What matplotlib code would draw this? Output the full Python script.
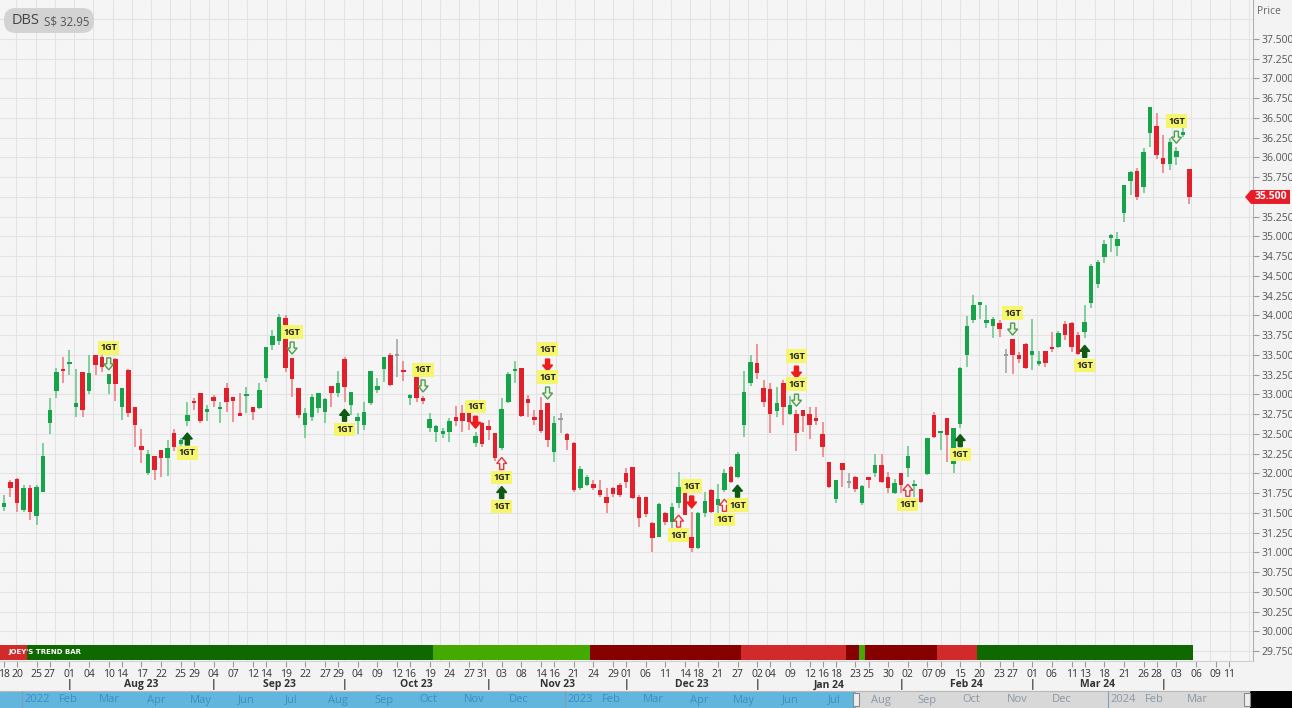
import matplotlib
matplotlib.use('Agg')
import matplotlib.pyplot as plt
from matplotlib.patches import FancyBboxPatch, Polygon, Rectangle
import numpy as np
import pandas as pd

plt.rcParams['font.family'] = ['Open Sans', 'DejaVu Sans']

# SGX trading days shown on the chart
holidays = ['2023-08-09', '2023-09-01', '2023-11-13', '2023-12-25',
            '2024-01-01', '2024-02-12', '2024-03-29']
days = pd.bdate_range('2023-07-18', '2024-04-05')
days = days[~days.isin(pd.to_datetime(holidays))]

# daily OHLC
opens = [31.58, 31.89, 31.93, 31.54, 31.81, 31.46, 31.77, 32.64, 33.04, 33.32,
         33.38, 32.84, 33.28, 33.04, 33.50, 33.47, 33.13, 33.45, 32.84, 33.31,
         32.84, 32.35, 32.00, 32.22, 32.30, 32.20, 32.51, 32.37, 32.66, 32.92,
         33.02, 32.78, 32.97, 32.81, 33.08, 32.97, 32.76, 32.98, 32.84, 32.83,
         33.21, 33.63, 33.68, 33.97, 33.46, 33.08, 32.61, 32.72, 32.83, 32.78,
         33.11, 33.02, 33.45, 32.87, 32.66, 32.61, 32.89, 33.06, 33.32, 33.50,
         33.50, 33.31, 32.95, 33.22, 32.96, 32.57, 32.52, 32.50, 32.52, 32.71,
         32.76, 32.77, 32.38, 32.64, 32.60, 32.51, 32.32, 32.90, 33.30, 33.33,
         32.94, 32.71, 32.80, 32.89, 32.27, 32.69, 32.50, 32.38, 31.81, 31.85,
         31.87, 31.79, 31.70, 31.81, 31.85, 32.00, 32.08, 31.70, 31.70, 31.37,
         31.19, 31.50, 31.38, 31.62, 31.79, 31.19, 31.05, 31.50, 31.79, 31.60,
         31.79, 32.08, 31.95, 32.61, 33.15, 33.40, 33.08, 33.07, 32.79, 33.14,
         32.75, 32.75, 32.80, 32.75, 32.70, 32.50, 32.14, 31.68, 32.13, 31.89,
         31.95, 31.63, 31.96, 32.00, 32.10, 31.95, 31.75, 32.00, 32.07, 31.84,
         31.80, 31.99, 32.74, 32.51, 32.70, 32.12, 32.62, 33.50, 33.94, 34.13,
         33.90, 33.87, 33.90, 33.50, 33.70, 33.50, 33.64, 33.50, 33.39, 33.55,
         33.60, 33.60, 33.89, 33.90, 33.75, 33.79, 34.16, 34.40, 34.74, 34.98,
         34.88, 35.30, 35.70, 35.83, 35.63, 36.31, 36.40, 35.99, 35.92, 36.00,
         36.28, 35.85]
highs = [31.72, 31.92, 31.94, 31.85, 31.85, 31.85, 32.38, 32.95, 33.33, 33.47,
         33.56, 33.32, 33.28, 33.50, 33.50, 33.50, 33.26, 33.46, 33.08, 33.32,
         32.84, 32.56, 32.30, 32.22, 32.30, 32.42, 32.56, 32.45, 32.90, 32.95,
         33.02, 32.86, 32.99, 32.90, 33.14, 32.97, 33.02, 33.09, 32.84, 33.14,
         33.60, 33.81, 34.02, 34.00, 33.46, 33.08, 32.83, 33.00, 33.02, 32.96,
         33.11, 33.30, 33.47, 33.03, 32.76, 32.90, 33.30, 33.21, 33.47, 33.52,
         33.70, 33.42, 33.00, 33.22, 32.98, 32.76, 32.61, 32.57, 32.70, 32.85,
         32.86, 32.80, 32.52, 32.65, 32.67, 32.51, 32.95, 33.28, 33.42, 33.33,
         32.99, 32.80, 32.97, 32.89, 32.73, 32.76, 32.51, 32.40, 32.09, 31.98,
         31.92, 31.92, 31.81, 31.83, 31.88, 32.07, 32.08, 31.73, 31.70, 31.39,
         31.62, 31.51, 31.62, 32.02, 31.80, 31.51, 31.51, 31.76, 31.80, 31.87,
         32.05, 32.09, 32.27, 33.30, 33.50, 33.64, 33.18, 33.14, 33.09, 33.18,
         32.98, 32.80, 32.80, 32.84, 32.84, 32.65, 32.14, 31.92, 32.13, 32.00,
         31.97, 31.85, 31.96, 32.25, 32.25, 32.02, 31.93, 32.00, 32.35, 31.92,
         31.80, 32.45, 32.78, 32.52, 32.70, 32.58, 33.35, 33.99, 34.26, 34.17,
         34.13, 33.98, 33.94, 33.58, 33.70, 33.54, 33.65, 33.95, 33.55, 33.55,
         33.79, 33.80, 33.93, 33.92, 33.79, 34.13, 34.65, 34.70, 34.95, 35.03,
         35.05, 35.65, 35.83, 35.87, 36.12, 36.64, 36.56, 36.28, 36.25, 36.13,
         36.39, 35.85]
lows = [31.52, 31.70, 31.51, 31.51, 31.41, 31.35, 31.76, 32.50, 32.95, 33.14,
        33.24, 32.71, 32.71, 33.00, 33.25, 33.28, 33.00, 32.92, 32.68, 32.71,
        32.33, 32.13, 31.98, 31.92, 31.95, 31.97, 32.28, 32.20, 32.60, 32.80,
        32.64, 32.66, 32.84, 32.64, 32.78, 32.65, 32.73, 32.76, 32.68, 32.81,
        33.16, 33.56, 33.62, 33.28, 32.97, 32.70, 32.45, 32.66, 32.76, 32.64,
        32.84, 32.97, 32.90, 32.74, 32.50, 32.55, 32.86, 33.02, 33.16, 33.10,
        33.22, 33.17, 32.87, 32.90, 32.88, 32.53, 32.40, 32.45, 32.40, 32.60,
        32.52, 32.55, 32.33, 32.33, 32.42, 32.16, 32.29, 32.89, 33.14, 32.71,
        32.71, 32.61, 32.51, 32.33, 32.14, 32.51, 32.30, 31.76, 31.79, 31.84,
        31.79, 31.70, 31.50, 31.70, 31.70, 31.81, 31.68, 31.32, 31.45, 31.00,
        31.19, 31.35, 31.30, 31.56, 31.47, 31.00, 31.04, 31.45, 31.50, 31.50,
        31.76, 31.88, 31.94, 32.46, 33.10, 33.20, 32.84, 32.51, 32.71, 32.61,
        32.74, 32.28, 32.52, 32.43, 32.61, 32.21, 31.81, 31.62, 31.83, 31.81,
        31.76, 31.60, 31.81, 31.95, 31.88, 31.75, 31.74, 31.75, 31.95, 31.70,
        31.62, 31.98, 32.45, 32.29, 32.14, 32.00, 32.58, 33.35, 33.90, 33.95,
        33.84, 33.71, 33.73, 33.27, 33.26, 33.40, 33.32, 33.31, 33.36, 33.35,
        33.54, 33.59, 33.69, 33.54, 33.50, 33.71, 34.09, 34.35, 34.66, 34.80,
        34.75, 35.18, 35.52, 35.46, 35.55, 36.13, 35.98, 35.80, 35.84, 35.90,
        36.26, 35.41]
closes = [31.62, 31.81, 31.62, 31.81, 31.51, 31.83, 32.22, 32.80, 33.28, 33.30,
          33.41, 32.89, 32.80, 33.27, 33.37, 33.35, 33.26, 33.13, 33.08, 32.76,
          32.61, 32.30, 32.24, 32.04, 32.19, 32.32, 32.34, 32.42, 32.74, 32.89,
          32.66, 32.82, 32.92, 32.84, 32.90, 32.92, 32.73, 33.00, 32.78, 33.06,
          33.60, 33.74, 33.98, 33.33, 33.19, 32.74, 32.76, 32.97, 33.02, 32.94,
          33.02, 33.14, 33.09, 33.03, 32.72, 32.78, 33.29, 33.10, 33.47, 33.12,
          33.50, 33.28, 32.99, 32.95, 32.92, 32.69, 32.60, 32.54, 32.66, 32.66,
          32.66, 32.65, 32.47, 32.37, 32.55, 32.19, 32.82, 33.26, 33.32, 32.73,
          32.89, 32.67, 32.54, 32.42, 32.64, 32.69, 32.42, 31.79, 32.06, 31.95,
          31.81, 31.73, 31.62, 31.74, 31.72, 31.89, 31.69, 31.44, 31.48, 31.18,
          31.61, 31.38, 31.57, 31.83, 31.47, 31.05, 31.50, 31.65, 31.51, 31.68,
          32.00, 31.89, 32.24, 33.03, 33.41, 33.27, 32.90, 32.75, 32.89, 32.84,
          32.86, 32.51, 32.73, 32.61, 32.66, 32.33, 31.83, 31.92, 32.04, 31.89,
          31.80, 31.84, 31.91, 32.10, 31.89, 31.81, 31.88, 31.85, 32.22, 31.86,
          31.64, 32.45, 32.46, 32.52, 32.49, 32.57, 33.34, 33.87, 34.13, 34.17,
          33.94, 33.95, 33.83, 33.50, 33.50, 33.45, 33.33, 33.55, 33.42, 33.40,
          33.57, 33.78, 33.75, 33.60, 33.51, 33.92, 34.63, 34.68, 34.90, 35.02,
          34.97, 35.65, 35.81, 35.50, 36.07, 36.64, 36.03, 35.92, 36.20, 36.08,
          36.32, 35.50]

# 1GT signals: candle index and type
# hd = hollow green down, bd = solid red down, bu = solid green up, hu = hollow red up
sig_idx = [16, 28, 44, 52, 64, 72, 76, 76, 83, 83, 103, 105, 110, 112,
           121, 121, 138, 146, 154, 165, 179]
sig_kind = ['hd', 'bu', 'hd', 'bu', 'hd', 'bd', 'hu', 'bu', 'hd', 'bd', 'hu', 'bd', 'hu', 'bu',
            'hd', 'bd', 'hu', 'bu', 'hd', 'bu', 'hd']

# Joey's trend bar: runs of states
trend_state = ['red', 'dkgreen', 'ltgreen', 'dkred', 'red', 'dkred', 'ltgreen', 'dkred', 'red', 'dkgreen']
trend_len = [4, 62, 24, 23, 16, 2, 1, 11, 6, 33]

tick_dates = ['2023-07-18', '2023-07-20', '2023-07-25', '2023-07-27',
              '2023-08-01', '2023-08-04', '2023-08-10', '2023-08-14', '2023-08-17', '2023-08-22', '2023-08-25', '2023-08-29',
              '2023-09-04', '2023-09-07', '2023-09-12', '2023-09-14', '2023-09-19', '2023-09-22', '2023-09-27', '2023-09-29',
              '2023-10-04', '2023-10-09', '2023-10-12', '2023-10-16', '2023-10-19', '2023-10-24', '2023-10-27', '2023-10-31',
              '2023-11-03', '2023-11-08', '2023-11-14', '2023-11-16', '2023-11-21', '2023-11-24', '2023-11-29',
              '2023-12-01', '2023-12-06', '2023-12-11', '2023-12-14', '2023-12-18', '2023-12-21', '2023-12-27',
              '2024-01-02', '2024-01-04', '2024-01-09', '2024-01-12', '2024-01-16', '2024-01-18', '2024-01-23', '2024-01-25', '2024-01-30',
              '2024-02-02', '2024-02-07', '2024-02-09', '2024-02-15', '2024-02-20', '2024-02-23', '2024-02-27',
              '2024-03-01', '2024-03-06', '2024-03-11', '2024-03-13', '2024-03-18', '2024-03-21', '2024-03-26', '2024-03-28',
              '2024-04-03', '2024-04-06', '2024-04-09', '2024-04-11']

W, H = 1292, 708
fig = plt.figure(figsize=(W / 100, H / 100), dpi=100)
fig.patch.set_facecolor('#f3f3f3')

ax = fig.add_axes([0, 47 / H, 1253 / W, 661 / H])
ax.set_facecolor('#f5f5f5')
ax.set_xlim(-0.6, 190.7)
ax.set_ylim(29.624, 37.994)

# data units per pixel
px = (190.7 + 0.6) / 1253
py = (37.994 - 29.624) / 661

# grid
ax.hlines(np.arange(29.75, 37.76, 0.25), -1, 192, color='#e3e3e3', lw=0.8, zorder=0)
ax.vlines(np.arange(1.9, 191, 2.94), 29, 38, color='#e3e3e3', lw=0.8, zorder=0)

# candles
x = np.arange(len(opens))
o, h, l, c = map(np.array, (opens, highs, lows, closes))
body_col = np.where(c > o, '#17a34a', np.where(c < o, '#e2202c', '#9a9a9a'))
wick_col = np.where(c > o, '#6cc98d', np.where(c < o, '#ef8187', '#a8a8a8'))
ax.vlines(x, l, h, colors=wick_col, lw=1.2, zorder=2)
body_h = np.maximum(np.abs(c - o), 0.022)
body_b = np.where(c == o, o - 0.011, np.minimum(o, c))
ax.bar(x, body_h, bottom=body_b, width=0.68, color=body_col, lw=0, zorder=3)

# 1GT signals
styles = {'bu': ('#0f5a12', '#0f5a12'), 'bd': ('#f01c1c', '#f01c1c'),
          'hd': ('#eaf6e4', '#4f9b4f'), 'hu': ('#fff3f3', '#e6353b')}
up_shape = [(-2, 0), (2, 0), (2, 6), (5, 6), (0, 12), (-5, 6), (-2, 6)]
down_shape = [(-2, 12), (2, 12), (2, 6), (5, 6), (0, 0), (-5, 6), (-2, 6)]
count = {}
for i, k in zip(sig_idx, sig_kind):
    above = k in ('hd', 'bd')
    n = count.get((i, above), 0)
    count[(i, above)] = n + 1
    if above:
        y0 = highs[i] + (4 + 28 * n) * py
        ylab = y0 + 22 * py
    else:
        y0 = lows[i] - (19 + 29 * n) * py
        ylab = y0 - 8 * py
    shape = up_shape if k in ('bu', 'hu') else down_shape
    fc, ec = styles[k]
    ax.add_patch(Polygon([(i + dx * px, y0 + dy * py) for dx, dy in shape],
                         closed=True, fc=fc, ec=ec, lw=1.0, zorder=6))
    ax.text(i, ylab, '1GT', ha='center', va='center', fontsize=6.5, fontweight='bold',
            color='#222222', zorder=7,
            bbox=dict(boxstyle='square,pad=0.25', fc='#f6f66c', ec='none'))

# trend bar
trend_colors = {'red': '#d22a2a', 'dkgreen': '#106800', 'ltgreen': '#45aa00', 'dkred': '#870000'}
edges = np.concatenate([[-0.5], -0.5 + np.cumsum(trend_len)])
edges[0] = -2
for s, a, b in zip(trend_state, edges[:-1], edges[1:]):
    ax.add_patch(Rectangle((a, 0.002), b - a, 0.022, transform=ax.get_xaxis_transform(),
                           fc=trend_colors[s], ec='none', zorder=4))
ax.text(8 / 1253, 0.013, "JOEY'S TREND BAR", transform=ax.transAxes, fontsize=5,
        fontweight='bold', color='white', va='center', family='DejaVu Sans', zorder=5)

# axes styling
ax.yaxis.tick_right()
yt = np.arange(29.75, 37.51, 0.25)
ax.set_yticks(yt)
# the last-price tag covers its own tick label
ax.set_yticklabels(['' if abs(v - closes[-1]) < 1e-6 else f'{v:.3f}' for v in yt])
ax.tick_params(axis='y', length=4, color='#9a9a9a', labelsize=7.5, labelcolor='#555555', pad=2)

def day_pos(d):
    d = pd.Timestamp(d)
    if d <= days[-1]:
        return days.searchsorted(d)
    return len(days) - 1 + (d - days[-1]).days

ax.set_xticks([day_pos(d) for d in tick_dates])
ax.set_xticklabels([pd.Timestamp(d).strftime('%d') for d in tick_dates])
ax.tick_params(axis='x', length=4, color='#9a9a9a', labelsize=7.5, labelcolor='#333333', pad=1.5)
for s in ['top', 'left']:
    ax.spines[s].set_visible(False)
ax.spines['right'].set_color('#b0b0b0')
ax.spines['bottom'].set_color('#d0d0d0')

# month separators and labels
sep = [i for i in range(1, len(days)) if days[i].month != days[i - 1].month]
xt = ax.get_xaxis_transform()
for s in sep:
    ax.text(s, -0.036, '|', transform=xt, ha='center', va='center', fontsize=7.5,
            fontweight='bold', color='#333333', clip_on=False)
for a, b in zip(sep[:-1], sep[1:]):
    ax.text((a + b) / 2, -0.036, days[a].strftime('%b %y'), transform=xt, ha='center',
            va='center', fontsize=7.5, fontweight='bold', color='#333333', clip_on=False)

# overlay in pixel coordinates
ov = fig.add_axes([0, 0, 1, 1], zorder=10)
ov.set_xlim(0, W)
ov.set_ylim(H, 0)
ov.axis('off')
ov.patch.set_alpha(0)

ov.add_patch(FancyBboxPatch((4, 8), 90, 25, boxstyle='round,pad=0,rounding_size=12',
                            fc='#d3d3d3', ec='none'))
ov.text(12, 21, 'DBS', fontsize=10.5, color='#444444', va='center')
ov.text(44, 22, 'S$ 32.95', fontsize=8.3, color='#555555', va='center')
ov.text(1257, 11, 'Price', fontsize=7.5, color='#666666', va='center')

# last price tag
y_tag = H - ax.transData.transform((0, closes[-1]))[1]
ov.add_patch(Polygon([(1245, y_tag), (1251, y_tag - 7), (1290, y_tag - 7),
                      (1290, y_tag + 7), (1251, y_tag + 7)], closed=True, fc='#e81c28', ec='none'))
ov.text(1271, y_tag, f'{closes[-1]:.3f}', fontsize=7.5, fontweight='bold', color='white',
        ha='center', va='center')

# navigator strip
def nav_x(d):
    return 22 + (pd.Timestamp(d) - pd.Timestamp('2022-01-01')).days * 1.488

g0, g1 = nav_x(days[0]) - 4, nav_x(days[-1])
ov.add_patch(Rectangle((0, 691), g0, 17, fc='#62b5dc', ec='none'))
ov.add_patch(Rectangle((g0, 691), g1 - g0, 17, fc='#d8d8d8', ec='none'))
ov.add_patch(Rectangle((g1, 691), W - g1, 17, fc='black', ec='none'))
ov.hlines(691, 0, g1, color='#b8b8b8', lw=0.8)
for m in pd.date_range('2022-01-01', '2024-04-01', freq='MS'):
    xm = nav_x(m)
    col = '#3b8fc3' if xm < g0 else '#8a98a6'
    if m.month == 1:
        ov.vlines(xm, 691, 708, color='#7f9fb5', lw=0.8)
        ov.text(xm + 2, 700, str(m.year), fontsize=8, color=col, ha='left', va='center')
    elif xm < g1 - 6:
        ov.text(xm, 700, m.strftime('%b'), fontsize=8, color=col, ha='center', va='center')
for hx in (g0, g1 - 3):
    ov.add_patch(Rectangle((hx - 3, 693), 6, 13, fc='#eeeeee', ec='#8a8a8a', lw=0.8))

fig.savefig('out.png', dpi=100, facecolor=fig.get_facecolor())
